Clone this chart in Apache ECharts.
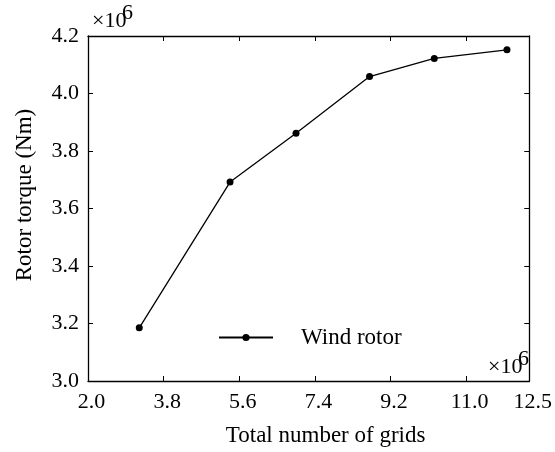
<!DOCTYPE html>
<html>
<head>
<meta charset="utf-8">
<script src="https://cdn.jsdelivr.net/npm/echarts@6/dist/echarts.min.js"></script>
<style>
  html, body { margin: 0; padding: 0; background: #fff; }
  #chart { width: 555px; height: 452px; }
</style>
</head>
<body>
<div id="chart"></div>
<script>
// grid counts (x 10^6) and rotor torque (x 10^6 Nm)
const gridCounts = [3.22, 5.38, 6.95, 8.70, 10.24, 11.97]
const torque = [3.185, 3.692, 3.862, 4.059, 4.122, 4.152]
const xTicks = [2.0, 3.8, 5.6, 7.4, 9.2, 11.0, 12.5]
const yTicks = [3.0, 3.2, 3.4, 3.6, 3.8, 4.0, 4.2]
const seriesName = 'Wind rotor'

const font = 'Liberation Serif'
const black = '#000'

const axisBase = {
  type: 'value',
  axisLine: { show: true, onZero: false, lineStyle: { color: black, width: 1.3 } },
  splitLine: { show: false }
}

const chart = echarts.init(document.getElementById('chart'))

chart.setOption({
  animation: false,
  grid: { left: 88, right: 22, top: 36, bottom: 69 },
  legend: {
    data: [seriesName],
    left: 213,
    top: 321,
    itemWidth: 54,
    itemHeight: 9,
    textStyle: { fontFamily: font, fontSize: 23, color: black, padding: [0, 0, 0, 23] }
  },
  xAxis: [
    {
      ...axisBase,
      min: 2, max: 12.5,
      name: 'Total number of grids',
      nameLocation: 'middle',
      nameGap: 43,
      nameTextStyle: { fontFamily: font, fontSize: 23, color: black, padding: [0, 0, 0, 34] },
      axisTick: { inside: true, length: 5, customValues: xTicks, lineStyle: { color: black } },
      axisLabel: {
        customValues: xTicks,
        margin: 10,
        padding: [0, 0, 0, 7],
        fontFamily: font, fontSize: 22, color: black,
        formatter: v => v.toFixed(1)
      }
    },
    {
      ...axisBase,
      position: 'top',
      min: 2, max: 12.5,
      axisTick: { inside: true, length: 5, customValues: xTicks, lineStyle: { color: black } },
      axisLabel: { show: false }
    }
  ],
  yAxis: [
    {
      ...axisBase,
      min: 3.0, max: 4.2,
      name: 'Rotor torque (Nm)',
      nameLocation: 'middle',
      nameGap: 52,
      nameTextStyle: { fontFamily: font, fontSize: 23, color: black, padding: [0, 0, 0, 27] },
      axisTick: { inside: true, length: 5, customValues: yTicks, lineStyle: { color: black } },
      axisLabel: {
        customValues: yTicks,
        margin: 9,
        fontFamily: font, fontSize: 22, color: black,
        formatter: v => v.toFixed(1)
      }
    },
    {
      ...axisBase,
      position: 'right',
      min: 3.0, max: 4.2,
      axisTick: { inside: true, length: 5, customValues: yTicks, lineStyle: { color: black } },
      axisLabel: { show: false }
    }
  ],
  graphic: [
    { type: 'text', left: 92, top: 10, style: { text: '×10', fontFamily: font, fontSize: 22, fill: black } },
    { type: 'text', left: 122, top: 2, style: { text: '6', fontFamily: font, fontSize: 22, fill: black } },
    { type: 'text', left: 488, top: 356, style: { text: '×10', fontFamily: font, fontSize: 22, fill: black } },
    { type: 'text', left: 518, top: 348, style: { text: '6', fontFamily: font, fontSize: 22, fill: black } }
  ],
  series: [{
    name: seriesName,
    type: 'line',
    data: gridCounts.map((x, i) => [x, torque[i]]),
    symbol: 'circle',
    symbolSize: 7,
    lineStyle: { color: black, width: 1.3 },
    itemStyle: { color: black }
  }]
})
</script>
</body>
</html>
